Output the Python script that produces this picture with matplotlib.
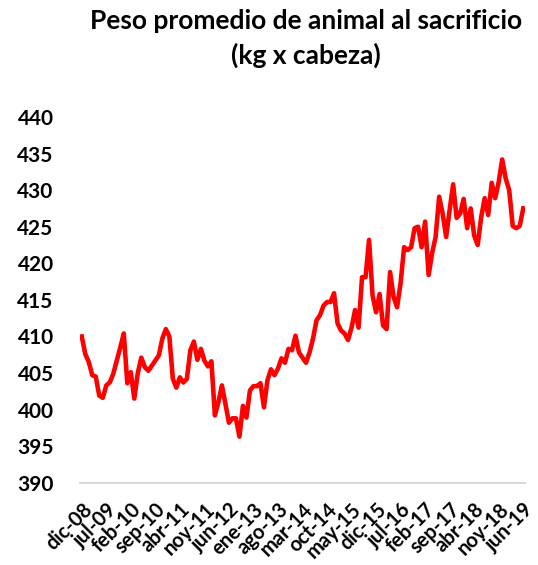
import matplotlib
matplotlib.use("Agg")
import matplotlib.pyplot as plt

# monthly slaughter weight, dic-08 .. jun-19 (kg per head)
values = [
    410.0, 407.6, 406.5, 404.7, 404.5, 401.9, 401.6, 403.3, 403.7, 404.9,
    406.7, 408.5, 410.4, 403.6, 405.1, 401.5, 405.0, 407.1, 405.8, 405.3,
    406.0, 406.7, 407.4, 409.7, 411.0, 410.0, 404.2, 403.0, 404.4, 403.7,
    404.2, 408.1, 409.3, 406.8, 408.3, 406.7, 405.9, 406.6, 399.2, 401.0,
    403.3, 400.8, 398.2, 398.8, 398.8, 396.3, 400.5, 398.9, 402.6, 403.2,
    403.2, 403.6, 400.3, 404.0, 405.5, 404.7, 405.6, 407.0, 406.4, 408.3,
    408.1, 410.1, 407.8, 407.1, 406.4, 407.8, 409.7, 412.2, 412.9, 414.2,
    414.7, 414.7, 415.9, 411.8, 410.8, 410.4, 409.5, 411.2, 413.6, 411.2,
    418.1, 418.1, 423.2, 415.6, 413.3, 415.8, 411.5, 411.0, 418.8, 415.4,
    414.0, 417.3, 422.2, 421.8, 422.2, 424.8, 425.0, 422.2, 425.7, 418.4,
    421.4, 423.6, 429.1, 426.8, 423.6, 427.3, 430.8, 426.2, 426.8, 428.8,
    424.8, 427.5, 423.8, 422.5, 426.3, 428.9, 426.6, 431.0, 428.9, 431.1,
    434.2, 431.6, 430.0, 425.1, 424.8, 425.1, 427.5,
]
tick_labels = ["dic-08", "jul-09", "feb-10", "sep-10", "abr-11", "nov-11", "jun-12",
               "ene-13", "ago-13", "mar-14", "oct-14", "may-15", "dic-15", "jul-16",
               "feb-17", "sep-17", "abr-18", "nov-18", "jun-19"]
y_ticks = [390, 395, 400, 405, 410, 415, 420, 425, 430, 435, 440]

plt.rcParams['font.family'] = ['Lato', 'DejaVu Sans']
plt.rcParams['font.weight'] = 'bold'

fig = plt.figure(figsize=(5.38, 5.65), dpi=100)
ax = fig.add_axes([0.1487, 0.1457, 0.8271, 0.6472])

x = list(range(len(values)))
ax.plot(x, values, color='#ff0000', linewidth=3.3, solid_joinstyle='round')

ax.set_xlim(-0.5, len(values) - 0.5)
ax.set_ylim(390, 440)
ax.set_yticks(y_ticks)
ax.set_yticklabels([str(v) for v in y_ticks], fontsize=15, fontweight='bold')
ax.set_xticks(x[::7])
ax.set_xticklabels(tick_labels, fontsize=14.5, fontweight='bold', rotation=45,
                   ha='right', va='top', rotation_mode='anchor')

for side in ['left', 'right', 'top']:
    ax.spines[side].set_visible(False)
ax.spines['bottom'].set_color('#d9d9d9')
ax.spines['bottom'].set_linewidth(1.5)
ax.tick_params(axis='both', length=0)
ax.tick_params(axis='y', pad=19)
ax.tick_params(axis='x', pad=12)

fig.text(0.569, 0.963, "Peso promedio de animal al sacrificio", ha='center', va='center',
         fontsize=19, fontweight='bold')
fig.text(0.569, 0.902, "(kg x cabeza)", ha='center', va='center',
         fontsize=19, fontweight='bold')

plt.savefig('out.png', dpi=100)
